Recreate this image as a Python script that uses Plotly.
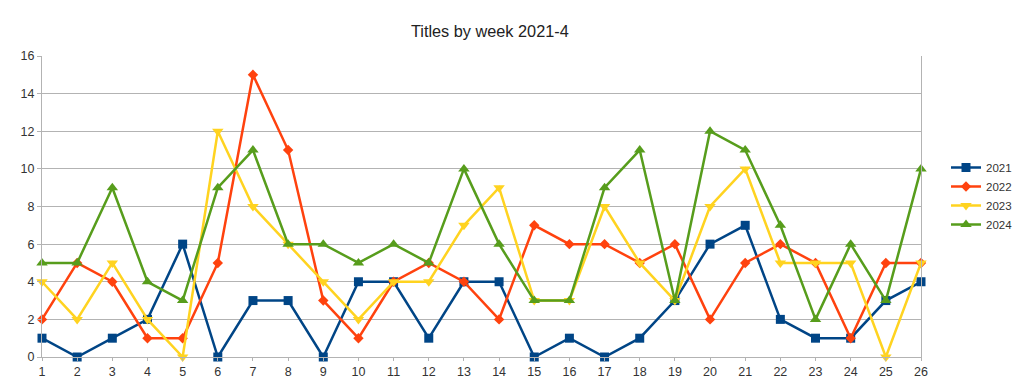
import plotly.graph_objects as go

weeks = list(range(1, 27))
y2021 = [1, 0, 1, 2, 6, 0, 3, 3, 0, 4, 4, 1, 4, 4, 0, 1, 0, 1, 3, 6, 7, 2, 1, 1, 3, 4]
y2022 = [2, 5, 4, 1, 1, 5, 15, 11, 3, 1, 4, 5, 4, 2, 7, 6, 6, 5, 6, 2, 5, 6, 5, 1, 5, 5]
y2023 = [4, 2, 5, 2, 0, 12, 8, 6, 4, 2, 4, 4, 7, 9, 3, 3, 8, 5, 3, 8, 10, 5, 5, 5, 0, 5]
y2024 = [5, 5, 9, 4, 3, 9, 11, 6, 6, 5, 6, 5, 10, 6, 3, 3, 9, 11, 3, 12, 11, 7, 2, 6, 3, 10]

series = [
    ("2021", y2021, "#004586", "square", 9),
    ("2022", y2022, "#ff420e", "diamond", 8),
    ("2023", y2023, "#ffd320", "triangle-down", 10),
    ("2024", y2024, "#579d1c", "triangle-up", 10),
]

fig = go.Figure()
for name, ys, color, sym, sz in series:
    fig.add_trace(go.Scatter(
        x=weeks, y=ys, name=name, mode="lines+markers",
        line=dict(color=color, width=2.5),
        marker=dict(symbol=sym, size=sz, color=color),
        cliponaxis=False,
    ))

fig.update_layout(
    width=1024, height=388,
    margin=dict(l=42, r=103, t=56, b=31, autoexpand=False),
    paper_bgcolor="white", plot_bgcolor="white",
    font=dict(family="Liberation Sans, Arial, sans-serif", size=12.5, color="#333333"),
    title=dict(text="Titles by week 2021-4", x=0.5095, xref="paper", xanchor="center",
               y=1 - 31 / 388, yref="container", yanchor="middle",
               font=dict(size=16.3, color="#222222")),
    legend=dict(x=946 / 1024, xref="container", xanchor="left",
                y=1 - 153 / 388, yref="container", yanchor="top",
                font=dict(size=11.5, color="#333333"), tracegroupgap=0,
                itemwidth=30),
    showlegend=True,
)
fig.update_xaxes(range=[1, 26], tickvals=weeks, showgrid=False, zeroline=False,
                 showline=True, linecolor="#b3b3b3", linewidth=1, automargin=False,
                 ticks="outside", ticklen=3, tickcolor="#b3b3b3")
fig.update_yaxes(range=[0, 16], dtick=2, showgrid=True, gridcolor="#b3b3b3", gridwidth=1,
                 zeroline=False, showline=True, linecolor="#b3b3b3", linewidth=1,
                 mirror=True, automargin=False,
                 ticks="outside", ticklen=4, tickcolor="#b3b3b3")

fig.write_html("out.html", config={"displayModeBar": False},
               post_script="document.body.style.margin='0';document.body.style.padding='0';")
